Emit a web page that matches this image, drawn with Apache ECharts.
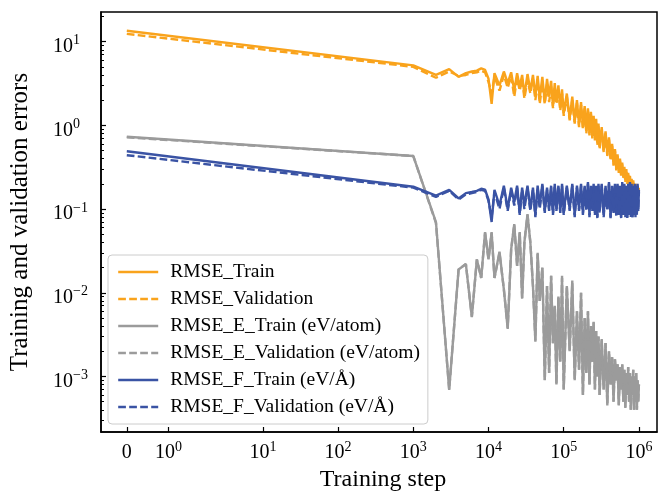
<!DOCTYPE html>
<html><head><meta charset="utf-8">
<script src="https://cdn.jsdelivr.net/npm/echarts@6/dist/echarts.min.js"></script>
<style>html,body{margin:0;padding:0;background:#fff}#c{width:660px;height:497px}</style>
</head><body><div id="c"></div>
<script>
// ---------------- data ----------------
const steps = [0, 1000, 2000, 3000, 4000, 5000, 6000, 7000, 8000, 9000,
  10000, 11000, 12000, 14000, 16000, 18000, 20000, 22000, 24000, 26000, 28000, 30000, 33000, 36000, 39000, 42000, 45000, 48000, 52000, 56000, 60000, 64000, 68000, 72000, 76000, 80000, 85000, 90000, 95000,
  100000, 110000, 120000, 130000, 140000, 150000, 160000, 170000, 180000, 190000, 200000, 210000, 220000, 230000, 240000, 250000, 260000, 270000, 280000, 290000, 300000,
  320000, 340000, 360000, 380000, 400000, 420000, 440000, 460000, 480000, 500000, 520000, 540000, 560000, 580000, 600000, 620000, 640000, 660000, 680000, 700000, 720000, 740000, 760000, 780000, 800000, 820000, 840000, 860000, 880000, 900000, 920000, 940000, 960000, 980000, 1000000];

const rmseTrain = [13.5, 5.2, 4.0, 4.7, 3.8, 4.2, 4.4, 4.5, 4.8, 4.6,
  3.6, 1.8, 4.2, 3.0, 4.4, 3.2, 4.3, 2.6, 4.2, 2.9, 4.0, 2.3, 4.1, 2.6, 4.0, 2.2, 3.9, 2.1, 3.8, 1.9, 3.6, 2.2, 3.4, 1.7, 3.2, 1.9, 3.0, 1.6, 2.7,
  1.4, 2.4, 1.2, 2.2, 1.1, 2.0, 1.0, 1.9, 0.95, 1.7, 0.85, 1.6, 0.8, 1.45, 0.75, 1.3, 0.7, 1.2, 0.62, 1.05, 0.55,
  0.95, 0.5, 0.85, 0.45, 0.72, 0.4, 0.6, 0.34, 0.52, 0.3, 0.45, 0.28, 0.4, 0.26, 0.36, 0.24, 0.32, 0.22, 0.3, 0.21, 0.27, 0.2, 0.25, 0.19, 0.23, 0.18, 0.22, 0.18, 0.2, 0.17, 0.2, 0.17, 0.19, 0.16, 0.18];

const rmseVal = [12.4, 5.0, 3.7, 4.4, 3.9, 4.0, 4.2, 4.3, 4.5, 4.3,
  3.3, 2.4, 3.8, 2.6, 4.0, 2.8, 3.9, 2.2, 3.7, 2.6, 3.6, 2.1, 3.5, 2.4, 3.6, 2.0, 3.4, 1.8, 3.2, 1.8, 3.1, 1.9, 2.9, 1.6, 2.8, 1.8, 2.6, 1.5, 2.4,
  1.3, 2.2, 1.15, 2.0, 1.05, 1.85, 0.95, 1.75, 0.9, 1.6, 0.8, 1.5, 0.76, 1.35, 0.7, 1.2, 0.66, 1.1, 0.58, 1.0, 0.52,
  0.88, 0.48, 0.8, 0.43, 0.68, 0.38, 0.57, 0.33, 0.5, 0.29, 0.43, 0.27, 0.38, 0.25, 0.34, 0.23, 0.3, 0.21, 0.28, 0.2, 0.26, 0.19, 0.24, 0.18, 0.22, 0.17, 0.21, 0.17, 0.19, 0.16, 0.19, 0.16, 0.18, 0.15, 0.17];

const rmseETrain = [0.73, 0.43, 0.07, 0.00069, 0.019, 0.022, 0.0051, 0.025, 0.015, 0.053,
  0.025, 0.053, 0.015, 0.031, 0.011, 0.0037, 0.033, 0.066, 0.021, 0.053, 0.0085, 0.04, 0.087, 0.04, 0.012, 0.0026, 0.03, 0.008, 0.02, 0.0009, 0.012, 0.0011, 0.016, 0.0025, 0.007, 0.0008, 0.009, 0.0015, 0.016,
  0.0007, 0.012, 0.002, 0.014, 0.0009, 0.006, 0.0012, 0.01, 0.0006, 0.005, 0.0011, 0.006, 0.0008, 0.004, 0.0015, 0.0045, 0.0007, 0.0035, 0.001, 0.003, 0.0006,
  0.0028, 0.0007, 0.0025, 0.00045, 0.002, 0.0008, 0.0017, 0.0005, 0.0016, 0.0009, 0.0014, 0.00045, 0.0013, 0.0007, 0.0014, 0.0005, 0.0012, 0.00042, 0.0011, 0.0006, 0.0013, 0.0005, 0.0011, 0.0004, 0.001, 0.0006, 0.0012, 0.0004, 0.001, 0.0005, 0.0011, 0.0004, 0.0009, 0.0005, 0.0008];

const rmseEVal = [0.72, 0.43, 0.068, 0.0007, 0.019, 0.022, 0.0052, 0.025, 0.015, 0.052,
  0.025, 0.052, 0.015, 0.03, 0.011, 0.0038, 0.033, 0.065, 0.021, 0.052, 0.0087, 0.04, 0.085, 0.04, 0.012, 0.0027, 0.029, 0.008, 0.02, 0.0009, 0.012, 0.0011, 0.016, 0.0025, 0.0068, 0.0008, 0.009, 0.0015, 0.015,
  0.0007, 0.012, 0.002, 0.013, 0.0009, 0.006, 0.0012, 0.01, 0.0006, 0.005, 0.0011, 0.006, 0.0008, 0.004, 0.0015, 0.0044, 0.0007, 0.0035, 0.001, 0.003, 0.0006,
  0.0027, 0.0007, 0.0025, 0.00046, 0.002, 0.0008, 0.0017, 0.0005, 0.0016, 0.0009, 0.0014, 0.00046, 0.0013, 0.0007, 0.0014, 0.0005, 0.0012, 0.00043, 0.0011, 0.0006, 0.0013, 0.0005, 0.0011, 0.0004, 0.001, 0.0006, 0.0012, 0.0004, 0.001, 0.0005, 0.0011, 0.0004, 0.0009, 0.0005, 0.0008];

const rmseFTrain = [0.49, 0.185, 0.145, 0.17, 0.134, 0.155, 0.16, 0.165, 0.175, 0.17,
  0.13, 0.07, 0.17, 0.11, 0.19, 0.1, 0.18, 0.12, 0.19, 0.09, 0.18, 0.11, 0.19, 0.1, 0.18, 0.085, 0.19, 0.11, 0.2, 0.095, 0.18, 0.1, 0.19, 0.09, 0.2, 0.1, 0.19, 0.095, 0.2,
  0.09, 0.19, 0.1, 0.2, 0.085, 0.19, 0.1, 0.2, 0.09, 0.19, 0.1, 0.21, 0.085, 0.19, 0.1, 0.2, 0.09, 0.19, 0.08, 0.2, 0.095,
  0.2, 0.085, 0.19, 0.1, 0.21, 0.08, 0.19, 0.095, 0.2, 0.085, 0.2, 0.09, 0.19, 0.08, 0.21, 0.09, 0.2, 0.085, 0.19, 0.08, 0.2, 0.09, 0.21, 0.085, 0.2, 0.08, 0.19, 0.09, 0.2, 0.085, 0.19, 0.09, 0.2, 0.1, 0.17];

const rmseFVal = [0.44, 0.18, 0.14, 0.165, 0.13, 0.15, 0.155, 0.16, 0.17, 0.165,
  0.125, 0.08, 0.16, 0.1, 0.18, 0.095, 0.17, 0.11, 0.18, 0.085, 0.17, 0.1, 0.18, 0.095, 0.17, 0.08, 0.18, 0.1, 0.19, 0.09, 0.17, 0.095, 0.18, 0.085, 0.19, 0.095, 0.18, 0.09, 0.19,
  0.085, 0.18, 0.095, 0.19, 0.08, 0.18, 0.095, 0.19, 0.085, 0.18, 0.095, 0.2, 0.08, 0.18, 0.095, 0.19, 0.085, 0.18, 0.078, 0.19, 0.09,
  0.19, 0.08, 0.18, 0.095, 0.2, 0.078, 0.18, 0.09, 0.19, 0.08, 0.19, 0.085, 0.18, 0.078, 0.2, 0.085, 0.19, 0.08, 0.18, 0.078, 0.19, 0.085, 0.2, 0.08, 0.19, 0.078, 0.18, 0.085, 0.19, 0.08, 0.18, 0.085, 0.19, 0.095, 0.16];

const seriesNames = ['RMSE_Train', 'RMSE_Validation', 'RMSE_E_Train (eV/atom)', 'RMSE_E_Validation (eV/atom)', 'RMSE_F_Train (eV/Å)', 'RMSE_F_Validation (eV/Å)'];

const xTickSteps = [0, 1, 10, 100, 1000, 10000, 100000, 1000000];
const xTickLabels = ['0', '10^0', '10^1', '10^2', '10^3', '10^4', '10^5', '10^6'];
const yTickValues = [0.001, 0.01, 0.1, 1, 10];
const yTickLabels = ['10^−3', '10^−2', '10^−1', '10^0', '10^1'];
const yMinorValues = [0.0003, 0.0004, 0.0005, 0.0006, 0.0007, 0.0008, 0.0009,
  0.002, 0.003, 0.004, 0.005, 0.006, 0.007, 0.008, 0.009,
  0.02, 0.03, 0.04, 0.05, 0.06, 0.07, 0.08, 0.09,
  0.2, 0.3, 0.4, 0.5, 0.6, 0.7, 0.8, 0.9,
  2, 3, 4, 5, 6, 7, 8, 9, 20];

// ---------------- helpers ----------------
// symmetric-log x scale (linthresh = 2, linscale = 1), like matplotlib's symlog
const LT = 2, LADJ = 1 / (1 - 1 / 10);
function symlog(x) { return x <= LT ? (x / LT) * LADJ : LADJ + Math.log10(x / LT); }

const FONT = "'Liberation Serif', 'DejaVu Serif', serif";
function rich(lbl) {
  if (lbl.indexOf('^') < 0) return '{b|' + lbl + '}';
  const p = lbl.split('^');
  return '{b|' + p[0] + '}{s|' + p[1] + '}';
}
const richStyles = {
  b: { fontFamily: FONT, fontSize: 20, color: '#000', lineHeight: 26 },
  s: { fontFamily: FONT, fontSize: 14, color: '#000', lineHeight: 10, verticalAlign: 'top' }
};

const xTickPos = xTickSteps.map(symlog);
function pairs(vals) { return steps.map((s, i) => [symlog(s), vals[i]]); }

const ORANGE = '#f9a31c', GRAY = '#9b9b9b', BLUE = '#3a53a4';
const DASH = [7.7, 3.3];
const defs = [
  [rmseTrain, ORANGE, 'solid'], [rmseVal, ORANGE, DASH],
  [rmseETrain, GRAY, 'solid'], [rmseEVal, GRAY, DASH],
  [rmseFTrain, BLUE, 'solid'], [rmseFVal, BLUE, DASH]
];

const chart = echarts.init(document.getElementById('c'), null, { renderer: 'canvas' });
chart.setOption({
  animation: false,
  backgroundColor: '#fff',
  grid: { left: 101, right: 3, top: 12, bottom: 61, show: true, borderColor: '#000', borderWidth: 1.5, backgroundColor: 'transparent' },
  legend: {
    orient: 'vertical', left: 108, top: 255,
    itemWidth: 40, itemHeight: 14, itemGap: 7,
    padding: [7, 8, 7, 9],
    backgroundColor: 'rgba(255,255,255,0.85)', borderColor: '#cccccc', borderWidth: 1, borderRadius: 4,
    itemStyle: { opacity: 0 },
    lineStyle: { width: 2.4 },
    textStyle: { fontFamily: FONT, fontSize: 19.5, color: '#000', lineHeight: 20, padding: [0, 0, 0, 7] },
    data: seriesNames
  },
  xAxis: {
    type: 'value', min: symlog(0) - 0.343, max: symlog(0) - 0.343 + 556 / 75.2,
    name: 'Training step', nameLocation: 'middle', nameGap: 36,
    nameTextStyle: { fontFamily: FONT, fontSize: 24, color: '#000', padding: [0, 0, 0, 8] },
    splitLine: { show: false },
    axisLine: { onZero: false, lineStyle: { color: '#000', width: 1.5 } },
    axisTick: { inside: true, length: 5, lineStyle: { color: '#000', width: 1.2 }, customValues: xTickPos },
    axisLabel: {
      customValues: xTickPos, margin: 8,
      formatter: function (v) {
        let best = 0;
        xTickPos.forEach((p, i) => { if (Math.abs(p - v) < Math.abs(xTickPos[best] - v)) best = i; });
        return rich(xTickLabels[best]);
      },
      rich: richStyles
    }
  },
  yAxis: [{
    type: 'log', logBase: 10, min: 2.17e-4, max: 22.6,
    name: 'Training and validation errors', nameLocation: 'middle', nameGap: 68, nameRotate: 90,
    nameTextStyle: { fontFamily: FONT, fontSize: 25, color: '#000' },
    splitLine: { show: false },
    axisLine: { show: true, onZero: false, lineStyle: { color: '#000', width: 1.5 } },
    axisTick: { inside: true, length: 5, lineStyle: { color: '#000', width: 1.2 }, customValues: yTickValues },
    axisLabel: {
      customValues: yTickValues, margin: 48, align: 'left', padding: [10, 0, 0, 0],
      formatter: function (v) {
        let best = 0;
        yTickValues.forEach((p, i) => { if (Math.abs(Math.log10(p) - Math.log10(v)) < Math.abs(Math.log10(yTickValues[best]) - Math.log10(v))) best = i; });
        return rich(yTickLabels[best]);
      },
      rich: richStyles
    }
  }, {
    type: 'log', logBase: 10, min: 2.17e-4, max: 22.6, position: 'left',
    splitLine: { show: false },
    axisLine: { show: false, onZero: false },
    axisLabel: { show: false },
    axisTick: { inside: true, length: 3, lineStyle: { color: '#000', width: 1 }, customValues: yMinorValues }
  }],
  series: defs.map((d, i) => ({
    name: seriesNames[i], type: 'line', data: pairs(d[0]),
    showSymbol: false, symbol: 'none', silent: true, clip: true,
    lineStyle: { color: d[1], width: 2.4, type: d[2] },
    itemStyle: { color: d[1] },
    emphasis: { disabled: true }
  }))
});
</script>
</body></html>
